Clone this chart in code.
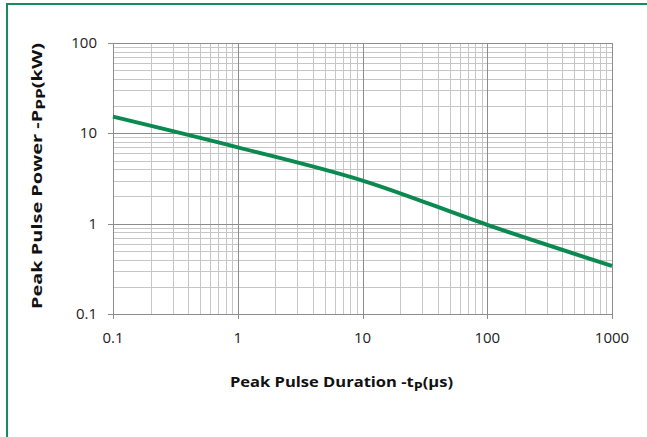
<!DOCTYPE html>
<html>
<head>
<meta charset="utf-8">
<script src="https://cdn.jsdelivr.net/npm/d3@7"></script>
<style>
  body { margin: 0; background: #fff; }
  text { font-family: "Open Sans", sans-serif; }
</style>
</head>
<body>
<div id="container"></div>
<script>
"use strict";

const width = 647;
const height = 437;

const margin = { left: 113, right: 35, top: 43, bottom: 123 };

const frameColor = "#1b8a5a";
const lineColor = "#0a8a50";
const majorGrid = "#8c8c8c";
const minorGrid = "#c6c6c6";

// pulse duration (us) and peak power (kW)
const durations = [0.1, 1, 10, 100, 1000];
const powers = [15.3, 7.0, 3.0, 0.97, 0.34];

const xTicks = [0.1, 1, 10, 100, 1000];
const yTicks = [0.1, 1, 10, 100];
const xTickLabels = ["0.1", "1", "10", "100", "1000"];
const yTickLabels = ["0.1", "1", "10", "100"];

const svg = d3
  .select("#container")
  .append("svg")
  .attr("width", width)
  .attr("height", height);

// outer frame, only the top and left edges are inside the picture
svg
  .append("rect")
  .attr("x", 7)
  .attr("y", 4)
  .attr("width", 1000)
  .attr("height", 1000)
  .attr("fill", "none")
  .attr("stroke", frameColor)
  .attr("stroke-width", 2);

const xScale = d3
  .scaleLog()
  .domain([0.1, 1000])
  .range([margin.left, width - margin.right]);

const yScale = d3
  .scaleLog()
  .domain([0.1, 100])
  .range([height - margin.bottom, margin.top]);

// minor values 2..9 of each decade
const minorValues = (lo, hi) => {
  const out = [];
  for (let d = lo; d < hi; d *= 10) {
    for (let k = 2; k <= 9; k++) out.push(+(d * k).toPrecision(3));
  }
  return out;
};

const grid = svg.append("g").attr("class", "grid");

grid
  .selectAll(".vminor")
  .data(minorValues(0.1, 1000))
  .enter()
  .append("line")
  .attr("x1", (d) => Math.round(xScale(d)) + 0.5)
  .attr("x2", (d) => Math.round(xScale(d)) + 0.5)
  .attr("y1", yScale(0.1))
  .attr("y2", yScale(100))
  .attr("stroke", minorGrid);

grid
  .selectAll(".hminor")
  .data(minorValues(0.1, 100))
  .enter()
  .append("line")
  .attr("y1", (d) => Math.round(yScale(d)) + 0.5)
  .attr("y2", (d) => Math.round(yScale(d)) + 0.5)
  .attr("x1", xScale(0.1))
  .attr("x2", xScale(1000))
  .attr("stroke", minorGrid);

grid
  .selectAll(".vmajor")
  .data(xTicks)
  .enter()
  .append("line")
  .attr("x1", (d) => Math.round(xScale(d)) + 0.5)
  .attr("x2", (d) => Math.round(xScale(d)) + 0.5)
  .attr("y1", yScale(0.1) + 5)
  .attr("y2", yScale(100))
  .attr("stroke", majorGrid);

grid
  .selectAll(".hmajor")
  .data(yTicks)
  .enter()
  .append("line")
  .attr("y1", (d) => Math.round(yScale(d)) + 0.5)
  .attr("y2", (d) => Math.round(yScale(d)) + 0.5)
  .attr("x1", xScale(0.1) - 5)
  .attr("x2", xScale(1000))
  .attr("stroke", majorGrid);

// tick labels
svg
  .append("g")
  .selectAll("text")
  .data(xTicks)
  .enter()
  .append("text")
  .attr("x", (d) => xScale(d))
  .attr("y", yScale(0.1) + 29)
  .attr("text-anchor", "middle")
  .style("font-size", "15px")
  .attr("fill", "#222")
  .text((d, i) => xTickLabels[i]);

svg
  .append("g")
  .selectAll("text")
  .data(yTicks)
  .enter()
  .append("text")
  .attr("x", margin.left - 16)
  .attr("y", (d) => yScale(d) + 5)
  .attr("text-anchor", "end")
  .style("font-size", "15px")
  .attr("fill", "#222")
  .text((d, i) => yTickLabels[i]);

// curve
const line = d3
  .line()
  .x((d) => xScale(d[0]))
  .y((d) => yScale(d[1]))
  .curve(d3.curveMonotoneX);

svg
  .append("path")
  .datum(durations.map((d, i) => [d, powers[i]]))
  .attr("d", line)
  .attr("fill", "none")
  .attr("stroke", lineColor)
  .attr("stroke-width", 4);

// axis titles
const xTitle = svg
  .append("text")
  .attr("x", 230)
  .attr("y", 387)
  .style("font-size", "15px")
  .style("font-weight", "bold")
  .attr("fill", "#111")
  .attr("textLength", 223)
  .attr("lengthAdjust", "spacingAndGlyphs");
xTitle.append("tspan").text("Peak Pulse Duration -t");
xTitle.append("tspan").attr("dy", 4).style("font-size", "13px").text("P");
xTitle.append("tspan").attr("dy", -4).text("(μs)");

const yTitle = svg
  .append("text")
  .attr("transform", "translate(42, 309) rotate(-90)")
  .style("font-size", "15px")
  .style("font-weight", "bold")
  .attr("fill", "#111")
  .attr("textLength", 266)
  .attr("lengthAdjust", "spacingAndGlyphs");
yTitle.append("tspan").text("Peak Pulse Power -P");
yTitle.append("tspan").attr("dy", 3).style("font-size", "13px").text("PP");
yTitle.append("tspan").attr("dy", -3).text("(kW)");
</script>
</body>
</html>
